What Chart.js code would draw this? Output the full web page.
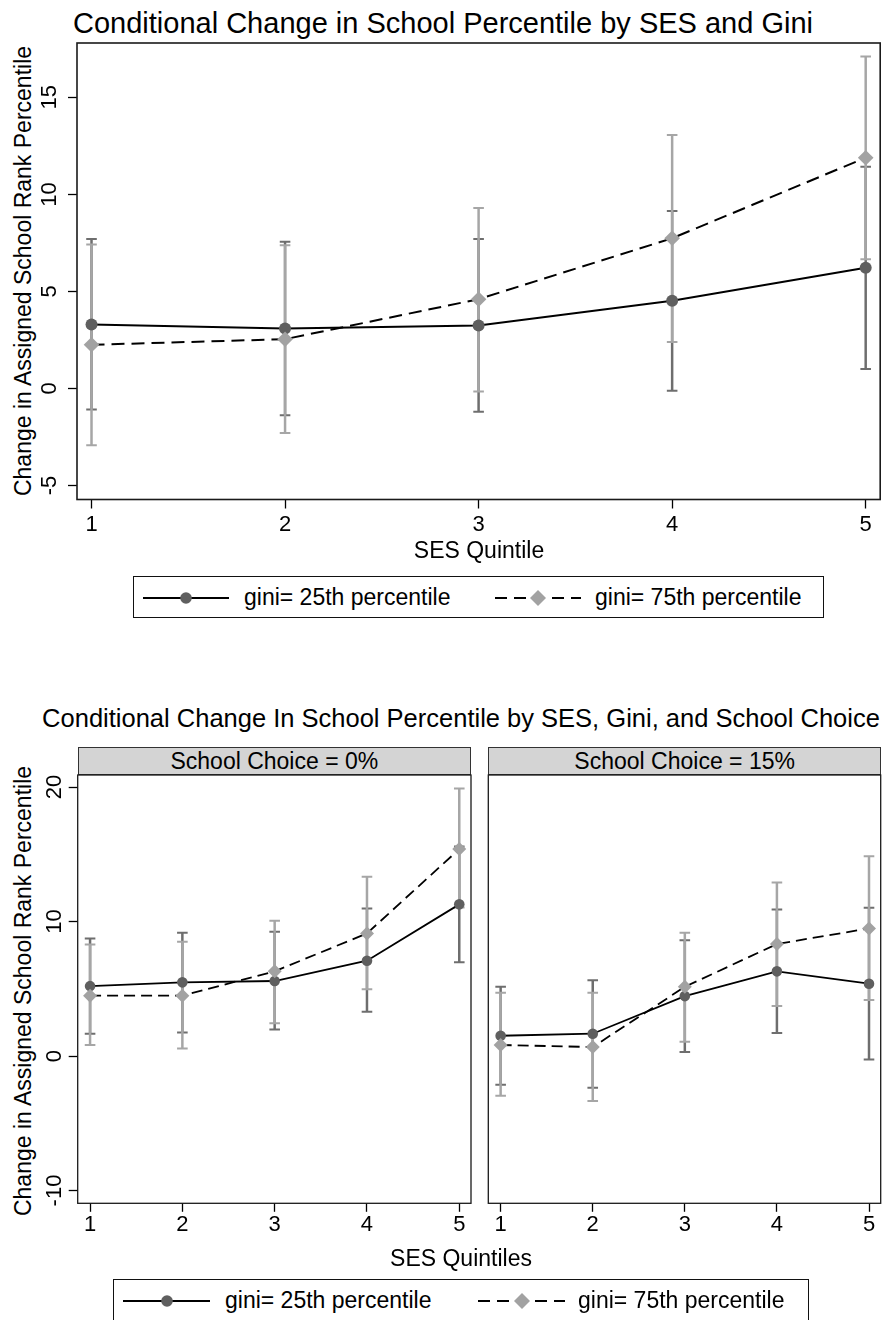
<!DOCTYPE html>
<html>
<head>
<meta charset="utf-8">
<script src="https://cdn.jsdelivr.net/npm/chart.js@4.4.1/dist/chart.umd.min.js"></script>
<style>
  body { margin: 0; background: #fff; }
  #page { position: relative; width: 888px; height: 1320px; overflow: hidden;
          font-family: "Liberation Sans", Arial, Helvetica, sans-serif; color: #000; }
  .txt { position: absolute; white-space: nowrap; line-height: 1; transform: translate(-50%, -50%); }
  .ltxt { position: absolute; white-space: nowrap; line-height: 1; transform: translate(0, -50%); font-size: 23px; }
  .ytitle { transform: translate(-50%, -50%) rotate(-90deg); font-size: 23px; }
  canvas { position: absolute; }
  .strip { position: absolute; box-sizing: border-box; background: #d4d4d4; border: 1.3px solid #333;
           font-size: 23px; text-align: center; line-height: 26px; }
  .legend { position: absolute; box-sizing: border-box; border: 1.5px solid #111; }
  svg { position: absolute; }
</style>
</head>
<body>
<div id="page">
  <div class="txt" style="left:443px; top:23px; font-size:29px;">Conditional Change in School Percentile by SES and Gini</div>
  <div class="txt ytitle" style="left:23px; top:271px;">Change in Assigned School Rank Percentile</div>
  <canvas id="top" width="888" height="560" style="left:0; top:0;"></canvas>
  <div class="txt" style="left:479px; top:550px; font-size:23px;">SES Quintile</div>

  <div class="legend" style="left:133px; top:576px; width:691px; height:42px;"></div>
  <svg style="left:143px; top:587px;" width="86" height="22">
    <line x1="0" y1="11" x2="86" y2="11" stroke="#000" stroke-width="2"/>
    <circle cx="43" cy="11" r="5.8" fill="#5f5f5f"/>
  </svg>
  <div class="ltxt" style="left:244px; top:597px;">gini= 25th percentile</div>
  <svg style="left:495px; top:587px;" width="86" height="22">
    <line x1="0" y1="11" x2="86" y2="11" stroke="#000" stroke-width="2" stroke-dasharray="12 7"/>
    <polygon points="35,11 43,3 51,11 43,19" fill="#a2a2a2"/>
  </svg>
  <div class="ltxt" style="left:595px; top:597px;">gini= 75th percentile</div>

  <div class="txt" style="left:461px; top:719px; font-size:25.5px;">Conditional Change In School Percentile by SES, Gini, and School Choice</div>
  <div class="strip" style="left:77.7px; top:746.7px; width:393.3px; height:28.8px;">School Choice = 0%</div>
  <div class="strip" style="left:488.3px; top:746.7px; width:392.7px; height:28.8px;">School Choice = 15%</div>
  <div class="txt ytitle" style="left:23px; top:991px;">Change in Assigned School Rank Percentile</div>
  <canvas id="left" width="480" height="520" style="left:0; top:740px;"></canvas>
  <canvas id="right" width="408" height="520" style="left:480px; top:740px;"></canvas>
  <div class="txt" style="left:461px; top:1258px; font-size:23px;">SES Quintiles</div>

  <div class="legend" style="left:113px; top:1279px; width:696px; height:44px;"></div>
  <svg style="left:123px; top:1290px;" width="87" height="22">
    <line x1="0" y1="11" x2="87" y2="11" stroke="#000" stroke-width="2"/>
    <circle cx="44" cy="11" r="5.8" fill="#5f5f5f"/>
  </svg>
  <div class="ltxt" style="left:225px; top:1300px;">gini= 25th percentile</div>
  <svg style="left:478px; top:1290px;" width="87" height="22">
    <line x1="0" y1="11" x2="87" y2="11" stroke="#000" stroke-width="2" stroke-dasharray="12 7"/>
    <polygon points="36,11 44,3 52,11 44,19" fill="#a2a2a2"/>
  </svg>
  <div class="ltxt" style="left:578px; top:1300px;">gini= 75th percentile</div>
</div>

<script>
// SES quintiles (x values and x tick labels)
const quintiles = [1, 2, 3, 4, 5];
const topYTicks = [-5, 0, 5, 10, 15];
const panelYTicks = [-10, 0, 10, 20];

// top chart: gini at 25th / 75th percentile, with 95% CI
const topG25   = [3.30, 3.09, 3.25, 4.52, 6.22];
const topG25Lo = [-1.08, -1.38, -1.20, -0.12, 1.01];
const topG25Hi = [7.70, 7.56, 7.70, 9.14, 11.42];
const topG75   = [2.25, 2.54, 4.60, 7.74, 11.89];
const topG75Lo = [-2.92, -2.29, -0.15, 2.39, 6.66];
const topG75Hi = [7.42, 7.38, 9.30, 13.06, 17.10];

// school choice = 0%
const c0G25   = [5.20, 5.48, 5.58, 7.09, 11.28];
const c0G25Lo = [1.66, 1.76, 1.98, 3.30, 6.97];
const c0G25Hi = [8.75, 9.17, 9.24, 10.98, 15.59];
const c0G75   = [4.49, 4.49, 6.30, 9.12, 15.39];
const c0G75Lo = [0.82, 0.57, 2.43, 4.96, 11.05];
const c0G75Hi = [8.30, 8.50, 10.06, 13.33, 19.90];

// school choice = 15%
const c15G25   = [1.51, 1.66, 4.46, 6.30, 5.38];
const c15G25Lo = [-2.13, -2.36, 0.30, 1.71, -0.25];
const c15G25Hi = [5.15, 5.63, 8.62, 10.90, 11.03];
const c15G75   = [0.82, 0.67, 5.15, 8.33, 9.49];
const c15G75Lo = [-2.95, -3.35, 1.06, 3.72, 4.16];
const c15G75Hi = [4.71, 4.71, 9.17, 12.91, 14.85];

const FONT = '"Liberation Sans", Arial, Helvetica, sans-serif';
const DARK = '#5f5f5f', DARK_CI = '#6e6e6e';
const LIGHT = '#a2a2a2', LIGHT_CI = '#a6a6a6';

// one vertical segment per quintile, broken by null points; caps drawn as 'line' points
function ciPoints(lo, hi) {
  const pts = [];
  quintiles.forEach((q, i) => {
    pts.push({ x: q, y: lo[i] }, { x: q, y: hi[i] }, { x: q, y: null });
  });
  return pts;
}

// box round the plot region
const frame = {
  id: 'frame',
  afterDatasetsDraw(chart, args, opts) {
    const a = chart.chartArea, ctx = chart.ctx;
    ctx.save();
    ctx.strokeStyle = opts.color;
    ctx.lineWidth = opts.width;
    ctx.strokeRect(a.left, a.top, a.right - a.left, a.bottom - a.top);
    ctx.restore();
  }
};

// vertical y tick labels, Stata style
const yLabels = {
  id: 'yLabels',
  afterDraw(chart, args, opts) {
    if (!opts.show) return;
    const s = chart.scales.y, ctx = chart.ctx;
    ctx.save();
    ctx.font = opts.size + 'px ' + FONT;
    ctx.fillStyle = '#000';
    ctx.textAlign = 'center';
    ctx.textBaseline = 'middle';
    s.ticks.forEach(t => {
      ctx.save();
      ctx.translate(opts.x, s.getPixelForValue(t.value));
      ctx.rotate(-Math.PI / 2);
      ctx.fillText(String(t.value), 0, 0);
      ctx.restore();
    });
    ctx.restore();
  }
};

function makeChart(id, c) {
  const datasets = [
    { data: quintiles.map((q, i) => ({ x: q, y: c.g75[i] })), borderColor: '#000', borderWidth: c.lw,
      borderDash: c.dash, pointStyle: 'rectRot', pointRadius: c.diamond, pointBorderWidth: 0,
      pointBackgroundColor: LIGHT, pointBorderColor: LIGHT, order: 0 },
    { data: quintiles.map((q, i) => ({ x: q, y: c.g25[i] })), borderColor: '#000', borderWidth: c.lw,
      pointStyle: 'circle', pointRadius: c.circle, pointBorderWidth: 0,
      pointBackgroundColor: DARK, pointBorderColor: DARK, order: 1 },
    { data: ciPoints(c.g75Lo, c.g75Hi), borderColor: LIGHT_CI, borderWidth: 2.5, pointStyle: 'line',
      pointRadius: 5.3, pointBorderWidth: 2, pointBorderColor: LIGHT_CI, order: 2 },
    { data: ciPoints(c.g25Lo, c.g25Hi), borderColor: DARK_CI, borderWidth: 2.5, pointStyle: 'line',
      pointRadius: 5.3, pointBorderWidth: 2, pointBorderColor: DARK_CI, order: 3 }
  ];
  return new Chart(document.getElementById(id), {
    type: 'line',
    data: { datasets },
    plugins: [frame, yLabels],
    options: {
      responsive: false,
      animation: false,
      events: [],
      layout: { padding: c.pad },
      plugins: {
        legend: { display: false },
        tooltip: { enabled: false },
        frame: { color: '#1a1a1a', width: c.frameW },
        yLabels: { show: c.yShow, x: c.yLabelX, size: 22 }
      },
      scales: {
        x: {
          type: 'linear', min: c.xMin, max: c.xMax,
          afterBuildTicks: s => { s.ticks = quintiles.map(v => ({ value: v })); },
          afterFit: s => { s.height = c.xH; },
          grid: { drawOnChartArea: false, tickLength: c.xTick, tickColor: '#000', tickWidth: 1.3 },
          border: { display: false },
          ticks: { font: { family: FONT, size: 22 }, color: '#000', padding: c.xPad, maxRotation: 0, autoSkip: false }
        },
        y: {
          display: c.yShow, min: c.yMin, max: c.yMax,
          afterBuildTicks: s => { s.ticks = c.yTicks.map(v => ({ value: v })); },
          afterFit: s => { s.width = c.yW; },
          grid: { drawOnChartArea: false, tickLength: 9, tickColor: '#000', tickWidth: 1.3 },
          border: { display: false },
          ticks: { display: false }
        }
      }
    }
  });
}

makeChart('top', {
  g25: topG25, g25Lo: topG25Lo, g25Hi: topG25Hi, g75: topG75, g75Lo: topG75Lo, g75Hi: topG75Hi,
  xMin: 0.925, xMax: 5.075, yMin: -5.72, yMax: 17.8, yTicks: topYTicks,
  pad: { left: 0, right: 7, top: 43, bottom: 0 }, yW: 77, xH: 60.5, xTick: 9, xPad: 3,
  yShow: true, yLabelX: 50, lw: 2, dash: [13, 7], circle: 6, diamond: 7.8, frameW: 1.6
});
makeChart('left', {
  g25: c0G25, g25Lo: c0G25Lo, g25Hi: c0G25Hi, g75: c0G75, g75Lo: c0G75Lo, g75Hi: c0G75Hi,
  xMin: 0.866, xMax: 5.127, yMin: -10.95, yMax: 20.9, yTicks: panelYTicks,
  pad: { left: 0, right: 9, top: 35, bottom: 0 }, yW: 77.7, xH: 56.7, xTick: 8.5, xPad: 0,
  yShow: true, yLabelX: 55, lw: 1.8, dash: [11, 6], circle: 5.3, diamond: 7, frameW: 1.3
});
makeChart('right', {
  g25: c15G25, g25Lo: c15G25Lo, g25Hi: c15G25Hi, g75: c15G75, g75Lo: c15G75Lo, g75Hi: c15G75Hi,
  xMin: 0.866, xMax: 5.127, yMin: -10.95, yMax: 20.9, yTicks: panelYTicks,
  pad: { left: 8.3, right: 7, top: 35, bottom: 0 }, yW: 0, xH: 56.7, xTick: 8.5, xPad: 0,
  yShow: false, yLabelX: 0, lw: 1.8, dash: [11, 6], circle: 5.3, diamond: 7, frameW: 1.3
});
</script>
</body>
</html>
